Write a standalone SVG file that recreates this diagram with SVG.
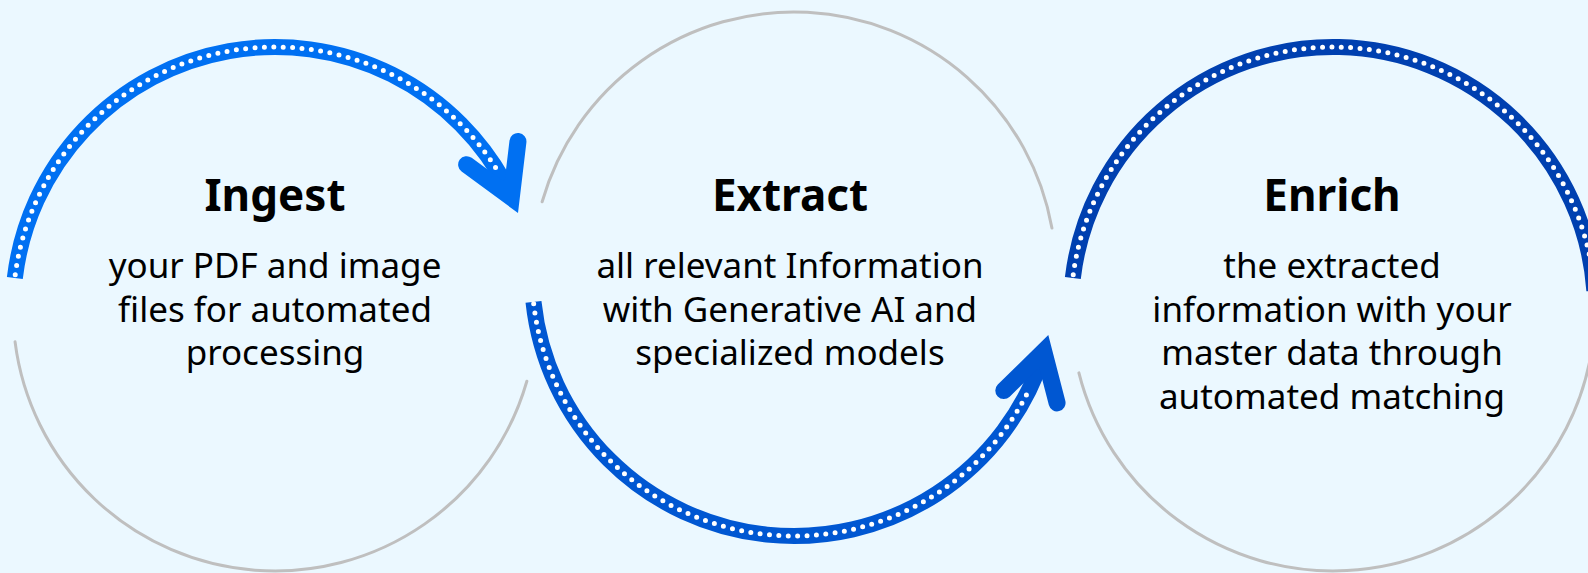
<svg xmlns="http://www.w3.org/2000/svg" width="1588" height="573" viewBox="0 0 1588 573">
  <style>
    .ring { fill: none; stroke: #BFBFBF; stroke-width: 3; stroke-linecap: round; }
    .band { fill: none; stroke-width: 16; stroke-linecap: butt; }
    .dots { fill: none; stroke: #FFFFFF; stroke-width: 5; stroke-linecap: round; stroke-dasharray: 0 9.4; }
    .title { font-family: "Noto Sans", "Open Sans", sans-serif; font-weight: 700; font-size: 44px; fill: #000000; text-anchor: middle; }
    .body { font-family: "Noto Sans", "Open Sans", sans-serif; font-weight: 400; font-size: 35px; fill: #000000; text-anchor: middle; }
  </style>
  <rect x="0" y="0" width="1588" height="573" fill="#EBF8FF"/>

  <g id="node-ingest">
    <path class="ring" d="M 15.07 341.84 A 262 262 0 0 0 526.85 381.22"/>
    <text class="title" x="275" y="211">Ingest</text>
    <text class="body" x="275" y="278">your PDF and image</text>
    <text class="body" x="275" y="321.5">files for automated</text>
    <text class="body" x="275" y="365">processing</text>
  </g>

  <g id="node-extract">
    <path class="ring" d="M 542.15 201.78 A 262 262 0 0 1 1051.94 228.05"/>
    <text class="title" x="790" y="211">Extract</text>
    <text class="body" x="790" y="278">all relevant Information</text>
    <text class="body" x="790" y="321.5">with Generative AI and</text>
    <text class="body" x="790" y="365">specialized models</text>
  </g>

  <g id="node-enrich">
    <path class="ring" d="M 1078.9 372.83 A 262 262 0 0 0 1592.45 345.46"/>
    <text class="title" x="1332" y="211">Enrich</text>
    <text class="body" x="1332" y="278">the extracted</text>
    <text class="body" x="1332" y="321.5">information with your</text>
    <text class="body" x="1332" y="365">master data through</text>
    <text class="body" x="1332" y="408.5">automated matching</text>
  </g>

  <g id="connectors">
    <g id="arc-ingest-extract">
      <path class="band" stroke="#0070F2" d="M 14.84 277.98 A 262 262 0 0 1 508.44 190.05"/>
      <path d="M 518 213 L 461.6 171.5 A 8.5 8.5 0 0 1 471.67 157.8 L 504.56 181.98 L 509.5 140.5 A 8.5 8.5 0 0 1 526.4 142.5 Z" fill="#0070F2"/>
      <path class="dots" d="M 15.24 274.8 A 262 262 0 0 1 495.97 168.23"/>
    </g>
    <g id="arc-extract-enrich">
      <path class="band" stroke="#0057D2" d="M 533.48 301.84 A 262 262 0 0 0 1043.18 354.96"/>
      <path d="M 1048.3 335 L 997.8 384.5 A 8.5 8.5 0 0 0 1009.7 396.64 L 1039.2 367.7 L 1048.84 405.05 A 8.5 8.5 0 0 0 1065.3 400.8 Z" fill="#0057D2"/>
      <path class="dots" d="M 533.68 303.66 A 262 262 0 0 0 1028.27 391.31"/>
    </g>
    <g id="arc-enrich">
      <path class="band" stroke="#0040B0" d="M 1072.84 277.98 A 262 262 0 0 1 1594.36 290.72"/>
      <path class="dots" d="M 1073.24 274.8 A 262 262 0 0 1 1594.0 286.16"/>
    </g>
  </g>
</svg>
